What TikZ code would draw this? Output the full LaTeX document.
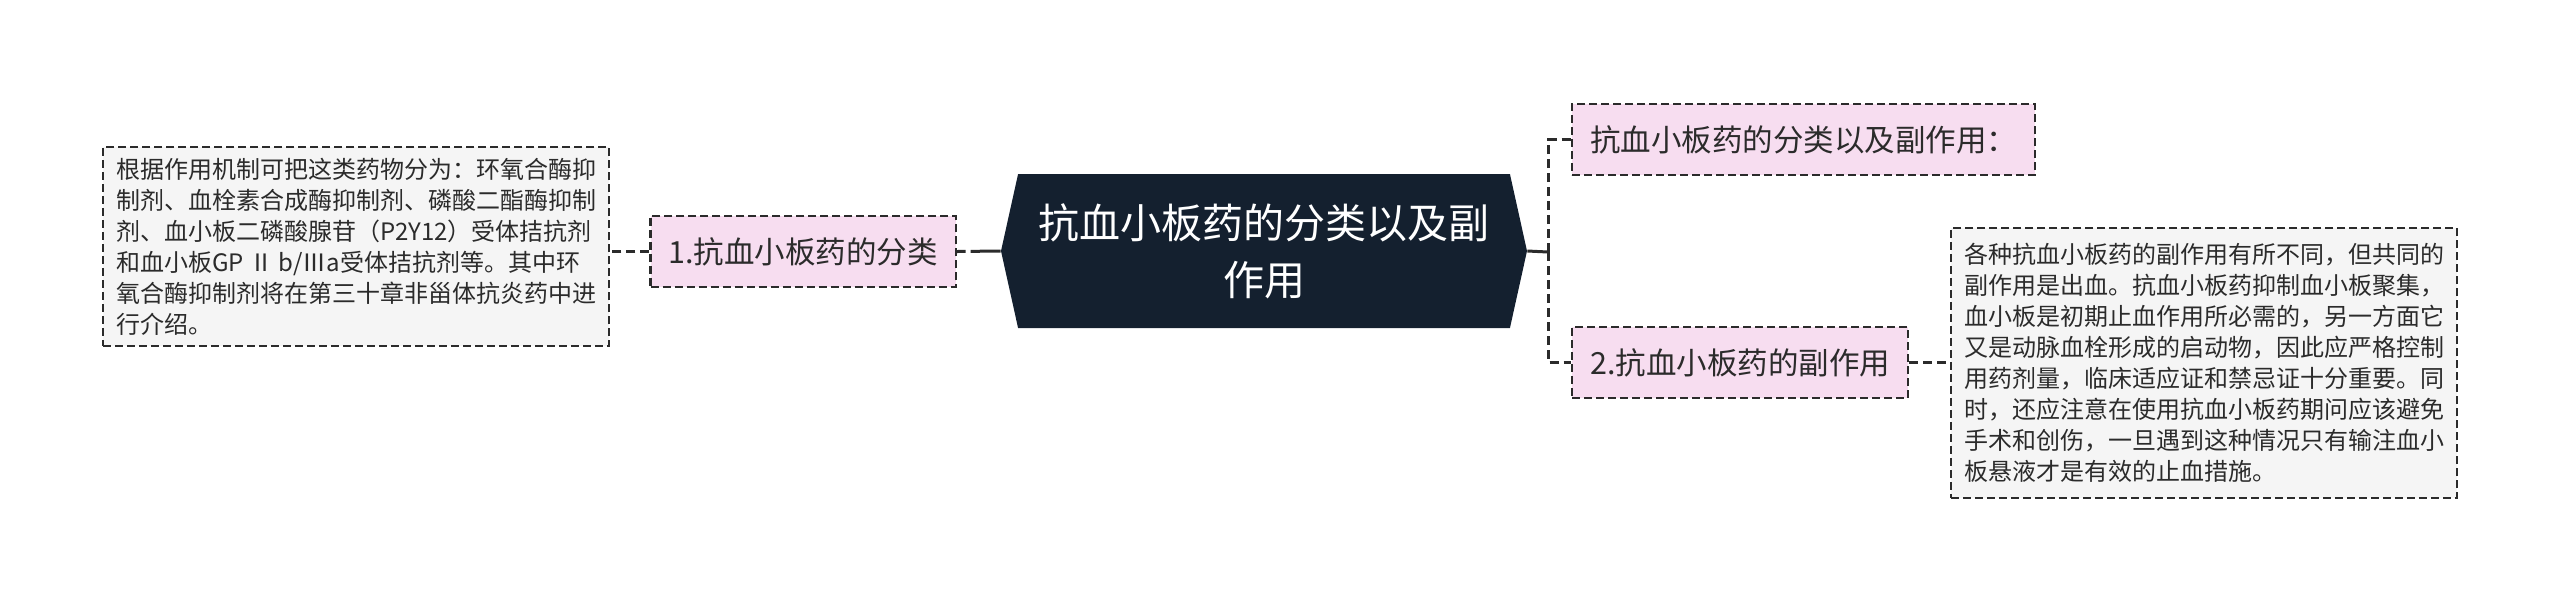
\documentclass[tikz,border=0pt]{standalone}
\usepackage{fontspec}
\newfontfamily\cjkfont{Noto Sans CJK SC}
\usetikzlibrary{shapes.symbols,positioning}
\definecolor{navy}{HTML}{14202F}
\definecolor{pinkfill}{HTML}{F7DDF0}
\definecolor{notefill}{HTML}{F5F5F5}
\definecolor{ink}{HTML}{2B2B2B}
\begin{document}
\begin{tikzpicture}[x=0.5pt,y=-0.5pt,
rootnode/.style = {signal, signal to=west and east, signal pointer angle=155, fill=navy, text=white, minimum width=263pt, minimum height=77pt, inner sep=0pt, align=center, font=\cjkfont\fontsize{20.5pt}{28.5pt}\selectfont},
topic/.style = {draw=ink, dash pattern=on 4pt off 2pt, line width=1.1pt, fill=pinkfill, text=ink, minimum height=35.5pt, inner xsep=9pt, font=\cjkfont\fontsize{15.25pt}{18pt}\selectfont},
note/.style = {draw=ink, dash pattern=on 4pt off 2pt, line width=1.1pt, fill=notefill, text=ink, minimum width=253pt, align=left, inner sep=0pt, font=\cjkfont\fontsize{12pt}{15.5pt}\selectfont},
link/.style = {draw=ink, line width=1.5pt, dash pattern=on 4.5pt off 2.5pt},
]
\useasboundingbox (0,0) rectangle (2560,602);
\node (root) at (1264,251) [rootnode] {抗血小板药的分类以及副\\作用};
\node (cls) at (957,251.5) [topic, anchor=east] {1.抗血小板药的分类};
\node (top) at (1571,139.5) [topic, anchor=west] {抗血小板药的分类以及副作用：};
\node (side) at (1571,362.5) [topic, anchor=west] {2.抗血小板药的副作用};
\node (desc1) at (356,246.5) [note, minimum height=99.5pt] {根据作用机制可把这类药物分为：环氧合酶抑\\制剂、血栓素合成酶抑制剂、磷酸二酯酶抑制\\剂、血小板二磷酸腺苷（P2Y12）受体拮抗剂\\和血小板GP Ⅱ b/Ⅲa受体拮抗剂等。其中环\\氧合酶抑制剂将在第三十章非甾体抗炎药中进\\行介绍。};
\node (desc2) at (2204,363) [note, minimum height=135pt] {各种抗血小板药的副作用有所不同，但共同的\\副作用是出血。抗血小板药抑制血小板聚集，\\血小板是初期止血作用所必需的，另一方面它\\又是动脉血栓形成的启动物，因此应严格控制\\用药剂量，临床适应证和禁忌证十分重要。同\\时，还应注意在使用抗血小板药期问应该避免\\手术和创伤，一旦遇到这种情况只有输注血小\\板悬液才是有效的止血措施。};
\coordinate (fork) at (1548,252);
\draw[link, dash pattern=on 15pt off 2.5pt] (root.west) -- (cls.east);
\draw[link] (cls.west) -- (cls.west -| desc1.east);
\draw[link, solid] (root.east) -- (fork);
\draw[link] (fork) |- (top.west);
\draw[link] (fork) |- (side.west);
\draw[link] (side.east) -- (side.east -| desc2.west);
\end{tikzpicture}
\end{document}
